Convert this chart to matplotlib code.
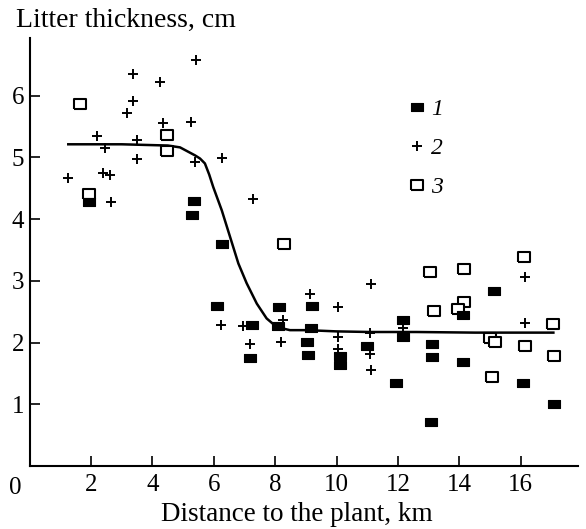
import numpy as np
import matplotlib
matplotlib.use("Agg")
import matplotlib.pyplot as plt

plt.rcParams['font.family'] = ['Liberation Serif', 'DejaVu Serif']

# series 1: filled squares
x1 = [1.94, 5.37, 5.28, 6.26, 6.09, 7.23, 7.18, 8.13, 8.10, 9.19, 9.16, 9.03, 9.08,
      10.11, 10.11, 10.98, 11.94, 12.15, 12.15, 13.10, 13.10, 13.06, 14.11, 14.11,
      15.14, 16.06, 17.08]
y1 = [4.28, 4.29, 4.07, 3.59, 2.59, 2.28, 1.75, 2.57, 2.26, 2.59, 2.23, 2.01, 1.80,
      1.78, 1.64, 1.94, 1.35, 2.37, 2.09, 1.97, 1.77, 0.72, 2.44, 1.68,
      2.84, 1.34, 1.00]

# series 2: plus
x2 = [1.24, 2.20, 2.40, 2.46, 2.62, 2.65, 3.16, 3.36, 3.38, 3.49, 3.50, 4.26, 4.34,
      5.25, 5.42, 5.39, 6.26, 6.22, 6.96, 7.18, 7.29, 8.27, 8.18, 9.13, 10.06, 10.06,
      10.06, 11.12, 11.09, 11.09, 11.12, 12.17, 16.14, 16.14]
y2 = [4.67, 5.34, 4.75, 5.15, 4.71, 4.28, 5.71, 5.91, 6.35, 4.97, 5.28, 6.22, 5.56,
      5.57, 6.57, 4.92, 4.98, 2.28, 2.27, 1.98, 4.32, 2.37, 2.01, 2.79, 2.58, 2.09,
      1.89, 2.95, 2.16, 1.82, 1.55, 2.23, 3.06, 2.31]

# series 3: open squares
x3 = [1.65, 4.47, 4.49, 1.94, 8.29, 13.04, 14.15, 16.10, 13.17, 14.15, 13.96, 17.06,
      15.00, 15.16, 16.14, 17.08, 15.05]
y3 = [5.87, 5.36, 5.10, 4.41, 3.59, 3.14, 3.19, 3.39, 2.51, 2.66, 2.54, 2.30,
      2.07, 2.01, 1.94, 1.78, 1.44]

# fitted curve
xc = [1.26, 3.0, 4.5, 4.90, 5.39, 5.55, 5.71, 5.85, 5.98, 6.26, 6.53, 6.80, 7.07,
      7.40, 7.72, 8.05, 8.48, 9.03, 10.0, 11.09, 12.6, 14.5, 17.06]
yc = [5.21, 5.21, 5.19, 5.16, 5.03, 4.98, 4.90, 4.72, 4.52, 4.14, 3.71, 3.28, 2.96,
      2.63, 2.39, 2.25, 2.20, 2.20, 2.18, 2.17, 2.17, 2.16, 2.16]

xticks = [2, 4, 6, 8, 10, 12, 14, 16]
yticks = [1, 2, 3, 4, 5, 6]

rect_f = [(-1, -0.72), (1, -0.72), (1, 0.72), (-1, 0.72), (-1, -0.72)]
rect_o = [(-1, -0.75), (1, -0.75), (1, 0.75), (-1, 0.75), (-1, -0.75)]

fig = plt.figure(figsize=(5.86, 5.29), dpi=100)
ax = fig.add_axes([0.0505, 0.1191, 0.9352, 0.8089])

ax.plot(xc, yc, color='black', lw=1.8, zorder=2)
ax.plot(x3, y3, ls='none', marker=rect_o, ms=8.8, mfc='white', mec='black', mew=1.5,
        label='3', zorder=3)
ax.plot(x1, y1, ls='none', marker=rect_f, ms=8.3, mfc='black', mec='black', mew=0.8,
        label='1', zorder=4)
ax.plot(x2, y2, ls='none', marker='+', ms=7.5, color='black', mew=1.4, label='2',
        zorder=5)

ax.set_xlim(0, 17.85)
ax.set_ylim(0, 6.93)
ax.set_xticks(xticks)
ax.set_yticks(yticks)
ax.tick_params(direction='in', length=7, width=1.2, labelsize=18)
ax.tick_params(axis='x', pad=6)
ax.tick_params(axis='y', pad=4)
for s in ['top', 'right']:
    ax.spines[s].set_visible(False)
for s in ['left', 'bottom']:
    ax.spines[s].set_linewidth(1.5)

ax.text(-0.47, -0.36, '0', ha='center', va='center', fontsize=18, clip_on=False)

h, l = ax.get_legend_handles_labels()
order = [1, 2, 0]
leg = ax.legend([h[i] for i in order], [l[i] for i in order], loc='upper left',
                bbox_to_anchor=(0.655, 0.908), frameon=False, handlelength=0.6,
                handletextpad=0.3, labelspacing=0.74,
                prop={'style': 'italic', 'size': 17})

fig.text(16 / 586, 1 - 27 / 529, 'Litter thickness, cm', fontsize=20, va='baseline')
fig.text(297 / 586, 1 - 521 / 529, 'Distance to the plant, km', fontsize=19.5,
         ha='center', va='baseline')

fig.savefig('out.png', dpi=100)
